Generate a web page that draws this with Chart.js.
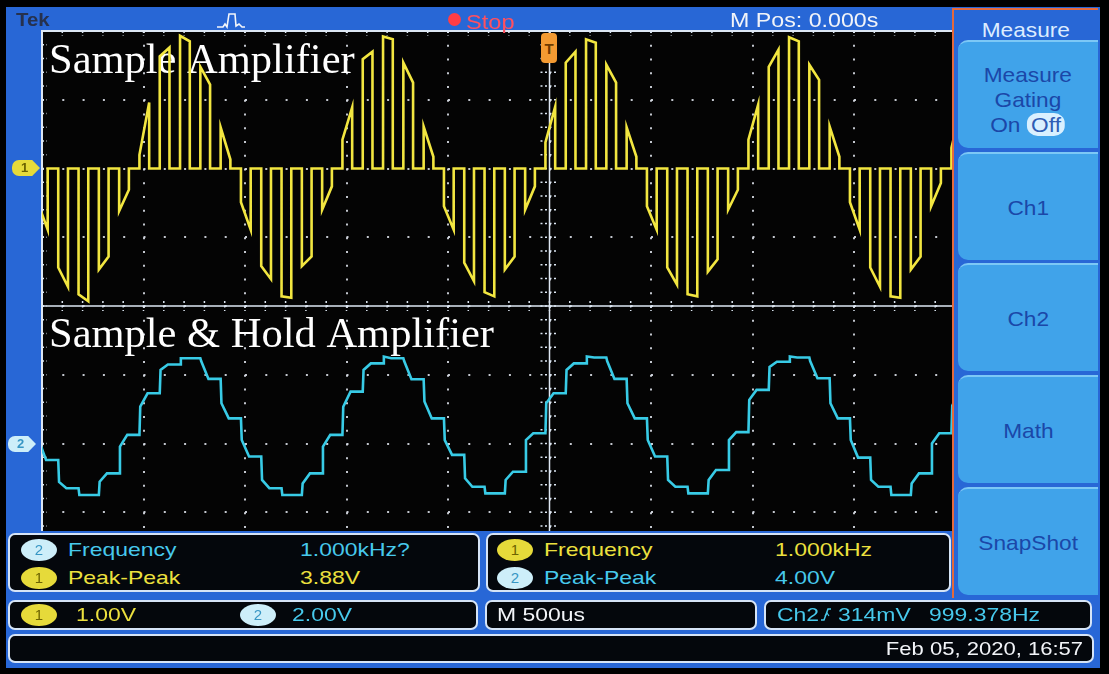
<!DOCTYPE html>
<html>
<head>
<meta charset="utf-8">
<script src="https://cdn.jsdelivr.net/npm/chart.js@4.4.1/dist/chart.umd.min.js"></script>
<style>
  body { margin: 0; background: #000; width: 1109px; height: 674px; overflow: hidden; font-family: "Liberation Sans", Arial, sans-serif; }
  #bezel { position: absolute; left: 6px; top: 7px; width: 1094px; height: 661px; background: #2867d6; }
  #scope { position: absolute; left: 0; top: 0; z-index: 1; }
  .ov { position: absolute; z-index: 2; }
  .t { position: absolute; z-index: 3; white-space: nowrap; line-height: 1; transform-origin: left center; }
  .sm { font-size: 18.5px; transform: scaleX(1.24); }
  .yl { color: #ece03e; }
  .cy { color: #47c9ec; }
  .wh { color: #f2f4f8; }
  .tag { position: absolute; z-index: 3; width: 28px; height: 16px; font: bold 13px "Liberation Sans", sans-serif; line-height: 16px; text-indent: 9px;
         clip-path: polygon(0 0, 72% 0, 100% 50%, 72% 100%, 0 100%); border-radius: 7px 0 0 7px; }
  .badge { position: absolute; z-index: 3; width: 36px; height: 22px; border-radius: 50%; text-align: center; font: 15px "Liberation Sans", sans-serif; line-height: 22px; }
  .b1 { background: #e6da3a; color: #6c6300; }
  .b2 { background: #cdeef9; color: #3796c4; }
  .box { position: absolute; z-index: 2; background: #04070c; border: 2px solid #d6e4f6; border-radius: 7px; box-sizing: border-box; }
  #menu { position: absolute; z-index: 2; left: 952px; top: 8px; width: 146px; height: 590px; background: #2867d6; border-left: 2px solid #e4693c; border-top: 2px solid #e4693c; box-sizing: border-box; }
  .btn { position: absolute; left: 4px; width: 140px; background: #40a3ea; border-top: 2px solid #7cc8f6; border-radius: 10px 0 0 10px; box-sizing: border-box;
         color: #1b47a8; font-size: 21px; text-align: center; }
  .btn span { display: inline-block; transform: scaleX(1.08); }
</style>
</head>
<body>
<div id="bezel"></div>
<canvas id="scope" width="1109" height="674"></canvas>

<!-- status bar -->
<div class="t" style="left:16px;top:10px;font:bold 18px 'Liberation Sans';color:#26314d;transform:scaleX(1.13)">Tek</div>
<svg class="ov" style="left:216px;top:11px" width="30" height="18"><polyline points="1,16 7,16 9,13 11,16 13,3 19,3 20,15 23,13 26,16 29,16" fill="none" stroke="#f4f6fa" stroke-width="1.6"/></svg>
<div class="ov" style="left:448px;top:13px;width:13px;height:13px;border-radius:50%;background:#ff3d45"></div>
<div class="t" style="left:466px;top:12px;font-size:20px;color:#ff5060;transform:scaleX(1.18)">Stop</div>
<div class="t wh" style="left:730px;top:11px;font-size:19.5px;transform:scaleX(1.19)">M Pos: 0.000s</div>
<div class="ov" style="left:541px;top:33px;width:16px;height:30px;background:#f39a32;border-radius:4px;color:#6e3a00;font:bold 15px 'Liberation Sans';text-align:center;line-height:32px">T</div>

<!-- channel ground markers -->
<div class="tag b1" style="left:12px;top:160px">1</div>
<div class="tag b2" style="left:8px;top:436px">2</div>

<!-- side menu -->
<div id="menu">
  <div style="position:absolute;left:0;width:144px;top:8px;text-align:center;color:#dcecff;font-size:21px"><span style="display:inline-block;transform:scaleX(1.08)">Measure</span></div>
  <div class="btn" style="top:30px;height:108px">
    <div style="margin-top:20px;line-height:25px"><span>Measure</span><br><span>Gating</span><br>
      <span>On <b style="font-weight:normal;background:#d9f0ff;border-radius:10px;padding:0 4px;color:#2e5db5">Off</b></span></div>
  </div>
  <div class="btn" style="top:142px;height:108px;line-height:108px"><span>Ch1</span></div>
  <div class="btn" style="top:253px;height:108px;line-height:108px"><span>Ch2</span></div>
  <div class="btn" style="top:365px;height:108px;line-height:108px"><span>Math</span></div>
  <div class="btn" style="top:477px;height:108px;line-height:108px"><span>SnapShot</span></div>
</div>

<!-- measurement readouts -->
<div class="ov" style="left:6px;top:531px;width:946px;height:70px;background:#2867d6"></div>
<div class="box" style="left:8px;top:533px;width:472px;height:59px"></div>
<div class="box" style="left:486px;top:533px;width:465px;height:59px"></div>
<div class="box" style="left:8px;top:600px;width:470px;height:30px"></div>
<div class="box" style="left:485px;top:600px;width:272px;height:30px"></div>
<div class="box" style="left:764px;top:600px;width:328px;height:30px"></div>
<div class="box" style="left:8px;top:634px;width:1086px;height:29px"></div>

<div class="badge b2" style="left:21px;top:539px">2</div>
<div class="t sm cy" style="left:68px;top:541px">Frequency</div>
<div class="t sm cy" style="left:300px;top:541px">1.000kHz?</div>
<div class="badge b1" style="left:21px;top:567px">1</div>
<div class="t sm yl" style="left:68px;top:569px">Peak-Peak</div>
<div class="t sm yl" style="left:300px;top:569px">3.88V</div>

<div class="badge b1" style="left:497px;top:539px">1</div>
<div class="t sm yl" style="left:544px;top:541px">Frequency</div>
<div class="t sm yl" style="left:775px;top:541px">1.000kHz</div>
<div class="badge b2" style="left:497px;top:567px">2</div>
<div class="t sm cy" style="left:544px;top:569px">Peak-Peak</div>
<div class="t sm cy" style="left:775px;top:569px">4.00V</div>

<div class="badge b1" style="left:21px;top:604px">1</div>
<div class="t sm yl" style="left:76px;top:606px">1.00V</div>
<div class="badge b2" style="left:240px;top:604px">2</div>
<div class="t sm cy" style="left:292px;top:606px">2.00V</div>
<div class="t sm wh" style="left:497px;top:606px">M 500us</div>
<div class="t sm cy" style="left:777px;top:606px">Ch2</div>
<svg class="ov" style="z-index:3;left:820px;top:605px" width="12" height="18"><polyline points="1,15 4,15 8,4 11,4" fill="none" stroke="#47c9ec" stroke-width="1.5"/><polyline points="5,11 7,8 9,11" fill="none" stroke="#47c9ec" stroke-width="1.2"/></svg>
<div class="t sm cy" style="left:838px;top:606px">314mV</div>
<div class="t sm cy" style="left:929px;top:606px">999.378Hz</div>
<div class="t wh" style="right:26px;top:639px;font-size:19px;transform:scaleX(1.16);transform-origin:right center">Feb 05, 2020, 16:57</div>

<script>
// sample clock ticks (us from trigger), one per 100us sample
const sampleTimes = [-2520, -2420, -2320, -2220, -2120, -2020, -1920, -1820, -1720, -1620,
                     -1520, -1420, -1320, -1220, -1120, -1020, -920, -820, -720, -620,
                     -520, -420, -320, -220, -120, -20, 80, 180, 280, 380,
                     480, 580, 680, 780, 880, 980, 1080, 1180, 1280, 1380,
                     1480, 1580, 1680, 1780, 1880, 1980];
const pulseWidth = 48;   // us, sampling pulse
const trackTime = 40;    // us, S&H acquisition

// Ch1 (sample amplifier), volts at pulse start / pulse end
const ch1PulseStart = [-0.50, -1.44, -1.83, -1.47, -0.62, 0.20, 1.63, 1.93, 1.48, 0.60,
                       -0.49, -1.42, -1.86, -1.42, -0.60, 0.42, 1.59, 1.92, 1.54, 0.61,
                       -0.55, -1.37, -1.80, -1.47, -0.60, 0.38, 1.54, 1.88, 1.51, 0.60,
                       -0.55, -1.44, -1.83, -1.50, -0.60, 0.42, 1.48, 1.91, 1.51, 0.61,
                       -0.49, -1.44, -1.86, -1.47, -0.55, 0.30];
const ch1PulseEnd = [-0.89, -1.72, -1.93, -1.28, -0.31, 0.96, 1.76, 1.85, 1.22, 0.13,
                     -0.89, -1.61, -1.88, -1.28, -0.26, 0.89, 1.70, 1.88, 1.25, 0.17,
                     -0.89, -1.64, -1.86, -1.28, -0.26, 0.90, 1.70, 1.83, 1.25, 0.17,
                     -0.89, -1.69, -1.86, -1.32, -0.31, 0.93, 1.73, 1.85, 1.29, 0.17,
                     -0.89, -1.72, -1.88, -1.28, -0.21, 0.90];

// Ch2 (sample & hold), volts right after the jump / held level
const ch2TrackStart = [0.10, -1.12, -1.50, -1.11, -0.09, 1.07, 2.14, 2.48, 2.40, 1.17,
                       0.10, -1.06, -1.50, -1.16, -0.09, 1.07, 2.14, 2.53, 2.40, 1.22,
                       0.10, -1.01, -1.45, -1.06, 0.10, 1.17, 2.14, 2.53, 2.40, 1.17,
                       0.10, -1.06, -1.45, -1.06, 0.10, 1.27, 2.23, 2.53, 2.40, 1.17,
                       0.10, -1.06, -1.50, -1.16, 0.00, 1.10];
const ch2HoldLevel = [-0.48, -1.30, -1.50, -0.87, 0.25, 1.46, 2.30, 2.48, 1.88, 0.73,
                      -0.38, -1.30, -1.50, -0.87, 0.25, 1.51, 2.33, 2.48, 1.87, 0.73,
                      -0.33, -1.26, -1.45, -0.82, 0.30, 1.46, 2.33, 2.50, 1.88, 0.73,
                      -0.38, -1.26, -1.45, -0.77, 0.33, 1.56, 2.38, 2.50, 1.90, 0.73,
                      -0.41, -1.26, -1.50, -0.87, 0.30, 1.50];

const titleTop = 'Sample Amplifier';
const titleBottom = 'Sample & Hold Amplifier';

function buildCh1() {
    const pts = [{x: -2600, y: 0}];
    sampleTimes.forEach((t, i) => {
        pts.push({x: t, y: 0}, {x: t, y: ch1PulseStart[i]},
                 {x: t + pulseWidth, y: ch1PulseEnd[i]}, {x: t + pulseWidth, y: 0});
    });
    pts.push({x: 2600, y: 0});
    return pts;
}

function buildCh2() {
    const pts = [];
    sampleTimes.forEach((t, i) => {
        if (i > 0) pts.push({x: t, y: ch2HoldLevel[i - 1]});
        pts.push({x: t + 4, y: ch2TrackStart[i]}, {x: t + trackTime, y: ch2HoldLevel[i]});
    });
    pts.push({x: 2600, y: ch2HoldLevel[ch2HoldLevel.length - 1]});
    return pts;
}

// black screen, centre cross, minor ticks and the two captions
const graticule = {
    id: 'graticule',
    beforeDraw(chart) {
        const {ctx, chartArea: a} = chart;
        ctx.save();
        ctx.fillStyle = '#040404';
        ctx.fillRect(a.left, a.top, a.right - a.left, a.bottom - a.top);
        ctx.restore();
    },
    beforeDatasetsDraw(chart) {
        const {ctx, chartArea: a, scales} = chart;
        const x = scales.x, y = scales.y1;
        const cx = x.getPixelForValue(0), cy = y.getPixelForValue(-2);
        ctx.save();
        ctx.strokeStyle = '#dde7f3';
        ctx.lineWidth = 1.5;
        ctx.beginPath();
        ctx.moveTo(cx, a.top); ctx.lineTo(cx, a.bottom);
        ctx.moveTo(a.left, cy); ctx.lineTo(a.right, cy);
        ctx.stroke();

        ctx.beginPath();
        for (let t = -2500; t <= 2500; t += 100) {
            const px = x.getPixelForValue(t);
            ctx.moveTo(px, a.top); ctx.lineTo(px, a.top + 5);
            ctx.moveTo(px, a.bottom); ctx.lineTo(px, a.bottom - 5);
            ctx.moveTo(px, cy - 5); ctx.lineTo(px, cy + 5);
        }
        for (let k = 0; k <= 40; k++) {
            const py = y.getPixelForValue(-6 + k * 0.2);
            ctx.moveTo(a.left, py); ctx.lineTo(a.left + 5, py);
            ctx.moveTo(a.right, py); ctx.lineTo(a.right - 5, py);
            ctx.moveTo(cx - 9, py); ctx.lineTo(cx + 9, py);
        }
        ctx.setLineDash([2, 2.5]);
        ctx.stroke();
        ctx.setLineDash([]);
        ctx.lineWidth = 2;
        ctx.strokeRect(a.left, a.top, a.right - a.left, a.bottom - a.top);

        ctx.fillStyle = '#ffffff';
        ctx.font = '42.5px "Liberation Serif", serif';
        ctx.fillText(titleTop, a.left + 7, a.top + 41.5);
        ctx.fillText(titleBottom, a.left + 7, a.top + 315.5);
        ctx.restore();
    }
};

const ctx = document.getElementById('scope').getContext('2d');
new Chart(ctx, {
    type: 'line',
    data: {
        datasets: [{
            label: 'Ch1',
            data: buildCh1(),
            yAxisID: 'y1',
            borderColor: '#f2e640',
            borderWidth: 2.6,
            pointRadius: 0,
            tension: 0
        }, {
            label: 'Ch2',
            data: buildCh2(),
            yAxisID: 'y2',
            borderColor: '#38cbe6',
            borderWidth: 2.6,
            pointRadius: 0,
            tension: 0
        }]
    },
    options: {
        responsive: false,
        animation: false,
        events: [],
        layout: { padding: { left: 42, top: 31, right: 52, bottom: 93 } },
        scales: {
            x: {
                type: 'linear', min: -2500, max: 2500,
                ticks: { stepSize: 500, display: false },
                grid: { color: 'rgba(215,220,228,0.9)', lineWidth: 2, drawTicks: false },
                border: { display: false, dash: [2, 11.75] }
            },
            y1: {
                position: 'left', min: -6, max: 2,
                ticks: { stepSize: 1, display: false },
                grid: { color: 'rgba(215,220,228,0.9)', lineWidth: 2, drawTicks: false },
                border: { display: false, dash: [2, 18.3] }
            },
            y2: { display: false, min: -4, max: 12 }
        },
        plugins: { legend: { display: false }, tooltip: { enabled: false } }
    },
    plugins: [graticule]
});
</script>
</body>
</html>
